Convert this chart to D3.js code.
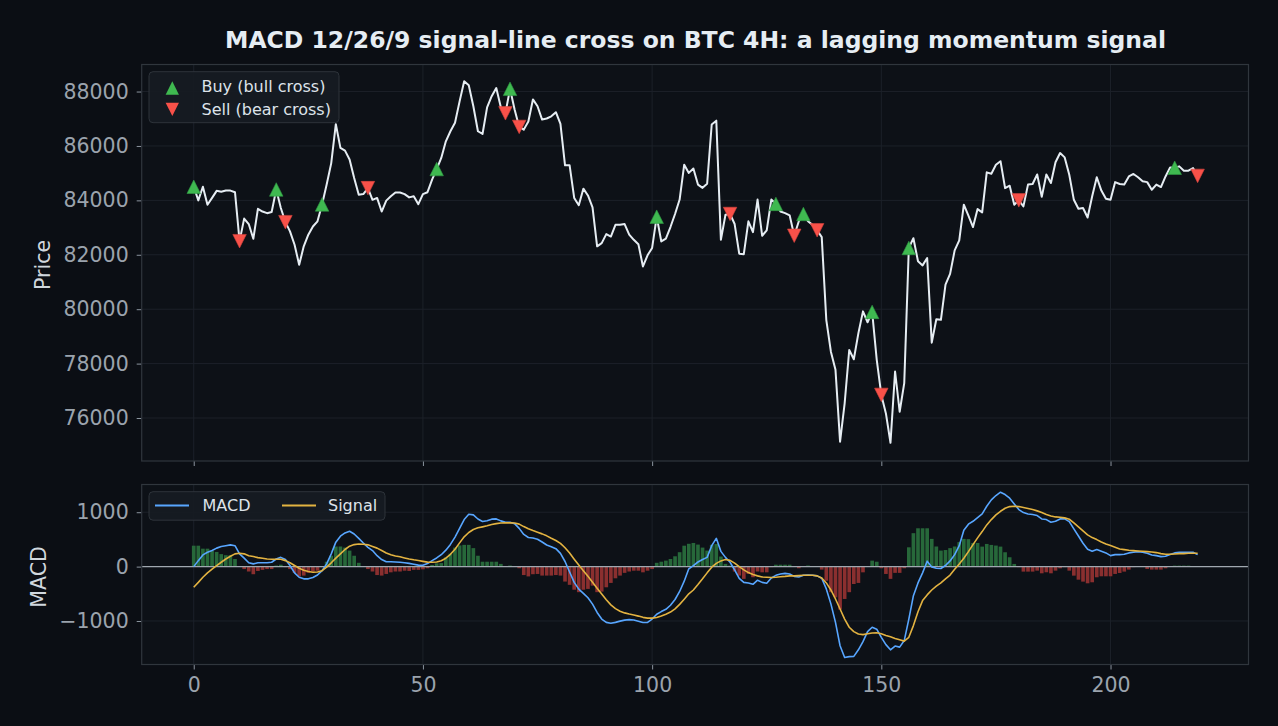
<!DOCTYPE html>
<html><head><meta charset="utf-8">
<script src="https://cdn.jsdelivr.net/npm/d3@7"></script>
<style>
html,body{margin:0;padding:0;background:#0b0e14;}
svg{display:block;font-family:"DejaVu Sans",sans-serif;}
</style></head>
<body>
<svg id="chart" width="1278" height="726"></svg>
<script>
// ---------------- DATA ----------------
const price = [
84500,84000,84500,83840,84090,84350,84320,84360,84360,84300,
82500,83330,83130,82590,83690,83590,83530,83570,84400,83720,
83200,82860,82370,81630,82310,82740,83040,83230,83850,84580,
85370,86800,85930,85830,85500,84820,84210,84230,84450,84020,
84090,83590,83990,84150,84290,84290,84230,84110,84150,83860,
84230,84300,84760,85150,85560,86170,86540,86850,87640,88380,
88230,87460,86540,86440,87420,87830,88130,87420,87200,88100,
87340,86700,86600,86900,87710,87460,86970,87010,87090,87240,
86810,85290,85290,84090,83820,84430,84180,83740,82310,82430,
82760,82670,83100,83100,83130,82740,82550,82390,81570,81980,
82250,83400,82490,82590,83020,83500,84030,85310,85010,85170,
84580,84460,84610,86790,86930,82550,83470,83500,83130,82040,
82020,83230,82830,84030,82700,82900,84030,83870,83590,83530,
83450,82700,83230,83500,83230,83100,82900,82650,79600,78440,
77770,75130,76540,78500,78160,79120,79920,79520,79900,78140,
76850,76170,75090,77710,76230,77280,82250,82610,81760,81610,
81880,78770,79630,79610,80900,81300,82160,82530,83840,83440,
83020,83680,83560,85030,84980,85310,85440,84450,84540,83840,
84000,83780,84580,84600,84950,84130,84950,84640,85400,85740,
85580,84940,84020,83690,83720,83370,84150,84850,84360,84060,
84020,84670,84600,84580,84880,84970,84850,84700,84670,84390,
84580,84490,84880,85210,85200,85250,85090,85090,85190,84900
];
const macd = [
0,110,215,265,295,340,370,385,400,385,
235,155,70,50,70,70,70,80,140,170,
130,20,-115,-195,-225,-225,-200,-155,-75,50,
235,450,560,620,650,600,520,435,355,295,
200,130,90,90,85,80,70,60,45,28,
24,55,111,159,219,303,408,543,703,866,
963,951,876,830,843,873,877,841,815,815,
790,703,592,536,526,503,453,398,367,330,
243,94,-100,-290,-414,-492,-573,-690,-843,-964,
-1025,-1041,-1025,-1002,-984,-975,-981,-1005,-1029,-1025,
-964,-875,-827,-785,-710,-605,-457,-268,-40,20,
85,130,170,385,520,280,170,80,-60,-215,
-290,-300,-325,-250,-290,-305,-210,-160,-135,-125,
-135,-180,-190,-160,-155,-160,-170,-215,-410,-685,
-1025,-1455,-1670,-1655,-1650,-1530,-1380,-1195,-1115,-1150,
-1300,-1435,-1530,-1460,-1480,-1360,-965,-535,-300,-115,
100,-5,-30,-35,20,105,220,385,670,780,
834,902,969,1110,1227,1307,1368,1325,1258,1153,
1049,994,969,957,939,877,865,816,834,877,
877,828,693,564,430,319,282,313,282,252,
202,221,221,227,252,264,276,264,245,215,
202,184,190,221,252,264,264,264,264,221
];
const signal = [
-380,-290,-195,-115,-45,20,80,140,190,235,
245,235,200,185,165,155,140,135,135,135,
110,70,20,-30,-65,-90,-105,-100,-75,-10,
70,155,235,315,375,405,415,410,400,370,
340,295,250,220,195,180,160,140,125,112,
97,83,80,84,107,155,226,321,437,548,
627,682,713,731,750,773,791,802,805,805,
803,781,736,695,662,632,602,566,521,480,
428,347,249,137,28,-74,-179,-286,-396,-504,
-609,-704,-773,-820,-851,-873,-891,-910,-933,-947,
-947,-935,-907,-875,-836,-776,-694,-599,-500,-430,
-330,-225,-115,-10,60,105,130,115,65,0,
-60,-110,-145,-170,-190,-195,-200,-195,-185,-180,
-170,-170,-165,-160,-160,-160,-170,-210,-300,-430,
-595,-780,-965,-1115,-1195,-1240,-1250,-1235,-1220,-1215,
-1235,-1265,-1290,-1320,-1345,-1370,-1300,-1085,-830,-625,
-520,-430,-360,-300,-225,-155,-50,50,155,276,
405,528,644,767,865,951,1018,1074,1104,1110,
1104,1086,1067,1049,1025,994,957,932,914,908,
896,871,804,730,657,583,534,497,454,417,
387,356,325,313,301,294,288,282,276,270,
258,239,227,227,233,239,239,245,245,245
];
const hist = [
385,385,330,330,290,270,230,210,210,140,
0,-45,-90,-140,-80,-60,-45,-45,20,35,
-10,-45,-115,-180,-165,-115,-90,-75,-10,90,
200,370,370,350,295,200,70,0,-45,-90,
-155,-165,-135,-105,-90,-90,-75,-80,-60,-60,
-50,-30,30,60,65,170,240,350,390,400,
400,340,200,90,90,90,90,50,0,20,
0,-30,-155,-180,-140,-135,-165,-165,-165,-155,
-165,-275,-335,-425,-470,-425,-410,-350,-470,-460,
-380,-300,-215,-165,-115,-90,-75,-75,-105,-75,
-45,70,90,110,140,190,265,385,420,435,
405,350,295,400,415,185,50,20,-90,-165,
-225,-135,-195,-90,-105,-105,-10,35,35,35,
35,0,-30,0,20,0,-5,-55,-260,-470,
-565,-790,-595,-470,-320,-300,-105,0,110,90,
-30,-135,-225,-115,-115,-30,355,615,705,705,
705,510,370,295,305,340,370,450,510,505,
435,435,368,417,399,387,368,264,172,49,
-10,-92,-92,-92,-74,-123,-104,-123,-74,-31,
-10,-74,-166,-240,-276,-307,-288,-196,-178,-178,
-178,-135,-117,-92,-55,-10,0,0,-43,-55,
-55,-55,-31,0,18,18,18,18,0,0
];
const buyIdx  = [0,18,28,53,69,101,127,133,148,156,214];
const sellIdx = [10,20,38,68,71,117,131,136,150,180,219];
const xTicks = [0,50,100,150,200];
const priceTicks = [76000,78000,80000,82000,84000,86000,88000];
const macdTicks = [-1000,0,1000];
const titleText = "MACD 12/26/9 signal-line cross on BTC 4H: a lagging momentum signal";

// ---------------- LAYOUT ----------------
const C = {
  bg:"#0b0e14", axbg:"#0d1117", spine:"#30363d", grid:"#1c2129",
  tick:"#8b949e", tickLabel:"#9ba3ad", label:"#d0d7de", title:"#e6edf3",
  price:"#e6edf3", buy:"#3fb950", sell:"#f85149",
  macd:"#58a6ff", signal:"#e3b341", green:"#27683a", red:"#8a2f2f", zero:"#a0a8b0",
  legBg:"#161b22", legBorder:"#30363d", legText:"#dde3ea"
};
const L = 141.7, R = 1248.5;
const topP = {t:64.5, b:461};
const botP = {t:484.5, b:664.5};

const svg = d3.select("#chart");
svg.append("rect").attr("width",1278).attr("height",726).attr("fill",C.bg);

const x = d3.scaleLinear().domain([-11.35, 230.1]).range([L, R]);
const yP = d3.scaleLinear().domain([74420, 88994]).range([topP.b, topP.t]);
const yM = d3.scaleLinear().domain([-1800, 1510]).range([botP.b, botP.t]);

function panel(p, y, yt, showX){
  const g = svg.append("g");
  g.append("rect").attr("x",L).attr("y",p.t).attr("width",R-L).attr("height",p.b-p.t).attr("fill",C.axbg);
  g.selectAll(".gx").data(xTicks).join("line")
    .attr("x1",d=>x(d)).attr("x2",d=>x(d)).attr("y1",p.t).attr("y2",p.b)
    .attr("stroke",C.grid).attr("stroke-width",1);
  g.selectAll(".gy").data(yt).join("line")
    .attr("x1",L).attr("x2",R).attr("y1",d=>y(d)).attr("y2",d=>y(d))
    .attr("stroke",C.grid).attr("stroke-width",1);
  const ya = g.append("g").attr("transform",`translate(${L},0)`)
    .call(d3.axisLeft(y).tickValues(yt).tickSize(5).tickPadding(8)
      .tickFormat(d=> d<0 ? "\u2212"+Math.abs(d) : String(d)));
  ya.select(".domain").remove();
  ya.selectAll("line").attr("stroke",C.tick).attr("stroke-width",1);
  ya.selectAll("text").attr("fill",C.tickLabel).attr("font-size","20.5px").attr("font-family","DejaVu Sans");
  const xa = g.append("g").attr("transform",`translate(0,${p.b})`)
    .call(d3.axisBottom(x).tickValues(xTicks).tickSize(5).tickPadding(8).tickFormat(showX? d3.format("d") : ""));
  xa.select(".domain").remove();
  xa.selectAll("line").attr("stroke",C.tick).attr("stroke-width",1);
  xa.selectAll("text").attr("fill",C.tickLabel).attr("font-size","20.5px").attr("font-family","DejaVu Sans");
  return g;
}

// ---------- TOP PANEL ----------
const gT = panel(topP, yP, priceTicks, false);
gT.append("path").datum(price)
  .attr("d", d3.line().x((d,i)=>x(i)).y(d=>yP(d)))
  .attr("fill","none").attr("stroke",C.price).attr("stroke-width",2).attr("stroke-linejoin","round");

const tri = (s, up) => up
  ? `M0,${-s/2}L${-s/2},${s/2}L${s/2},${s/2}Z`
  : `M0,${s/2}L${-s/2},${-s/2}L${s/2},${-s/2}Z`;
gT.selectAll(".buy").data(buyIdx).join("path")
  .attr("d", tri(13.5,true)).attr("transform",i=>`translate(${x(i)},${yP(price[i])})`)
  .attr("fill",C.buy).attr("stroke","#2f9a45").attr("stroke-width",0.6);
gT.selectAll(".sell").data(sellIdx).join("path")
  .attr("d", tri(13.5,false)).attr("transform",i=>`translate(${x(i)},${yP(price[i])})`)
  .attr("fill",C.sell).attr("stroke","#d8443e").attr("stroke-width",0.6);

gT.append("rect").attr("x",L).attr("y",topP.t).attr("width",R-L).attr("height",topP.b-topP.t)
  .attr("fill","none").attr("stroke",C.spine).attr("stroke-width",1.2);

// legend top
const lg1 = svg.append("g");
lg1.append("rect").attr("x",149).attr("y",71.7).attr("width",190).attr("height",51).attr("rx",4)
  .attr("fill",C.legBg).attr("stroke",C.legBorder).attr("stroke-width",1).attr("opacity",0.95);
lg1.append("path").attr("d",tri(13.3,true)).attr("transform","translate(172.3,88)").attr("fill",C.buy);
lg1.append("path").attr("d",tri(13.3,false)).attr("transform","translate(172.3,109.3)").attr("fill",C.sell);
lg1.append("text").attr("x",201.5).attr("y",91.8).text("Buy (bull cross)")
  .attr("fill",C.legText).attr("font-size","16px");
lg1.append("text").attr("x",201.5).attr("y",115).text("Sell (bear cross)")
  .attr("fill",C.legText).attr("font-size","16px");

// ---------- BOTTOM PANEL ----------
const gB = panel(botP, yM, macdTicks, true);
const bw = (x(1)-x(0))*0.8;
gB.selectAll(".bar").data(hist).join("rect")
  .attr("x",(d,i)=>x(i)-bw/2).attr("width",bw)
  .attr("y",d=>Math.min(yM(d),yM(0))).attr("height",d=>Math.abs(yM(d)-yM(0)))
  .attr("fill",d=> d>=0 ? C.green : C.red);
gB.append("line").attr("x1",L).attr("x2",R).attr("y1",yM(0)).attr("y2",yM(0))
  .attr("stroke",C.zero).attr("stroke-width",1.3);
gB.append("path").datum(macd)
  .attr("d", d3.line().x((d,i)=>x(i)).y(d=>yM(d)))
  .attr("fill","none").attr("stroke",C.macd).attr("stroke-width",1.6).attr("stroke-linejoin","round");
gB.append("path").datum(signal)
  .attr("d", d3.line().x((d,i)=>x(i)).y(d=>yM(d)))
  .attr("fill","none").attr("stroke",C.signal).attr("stroke-width",1.6).attr("stroke-linejoin","round");
gB.append("rect").attr("x",L).attr("y",botP.t).attr("width",R-L).attr("height",botP.b-botP.t)
  .attr("fill","none").attr("stroke",C.spine).attr("stroke-width",1.2);

// legend bottom
const lg2 = svg.append("g");
lg2.append("rect").attr("x",149).attr("y",491.7).attr("width",236).attr("height",28.5).attr("rx",4)
  .attr("fill",C.legBg).attr("stroke",C.legBorder).attr("stroke-width",1).attr("opacity",0.95);
lg2.append("line").attr("x1",155).attr("x2",189).attr("y1",505.5).attr("y2",505.5).attr("stroke",C.macd).attr("stroke-width",1.8);
lg2.append("text").attr("x",202.5).attr("y",511.3).text("MACD").attr("fill",C.legText).attr("font-size","16px");
lg2.append("line").attr("x1",282).attr("x2",316).attr("y1",505.5).attr("y2",505.5).attr("stroke",C.signal).attr("stroke-width",1.8);
lg2.append("text").attr("x",328).attr("y",511.3).text("Signal").attr("fill",C.legText).attr("font-size","16px");

// labels
svg.append("text").attr("transform","translate(50,265) rotate(-90)").attr("text-anchor","middle")
  .text("Price").attr("fill",C.label).attr("font-size","20.5px");
svg.append("text").attr("transform","translate(46,577) rotate(-90)").attr("text-anchor","middle")
  .text("MACD").attr("fill",C.label).attr("font-size","20.5px");
svg.append("text").attr("x",695.5).attr("y",47.5).attr("text-anchor","middle")
  .text(titleText).attr("fill",C.title).attr("font-size","23.5px").attr("font-weight","bold");
</script>
</body></html>
